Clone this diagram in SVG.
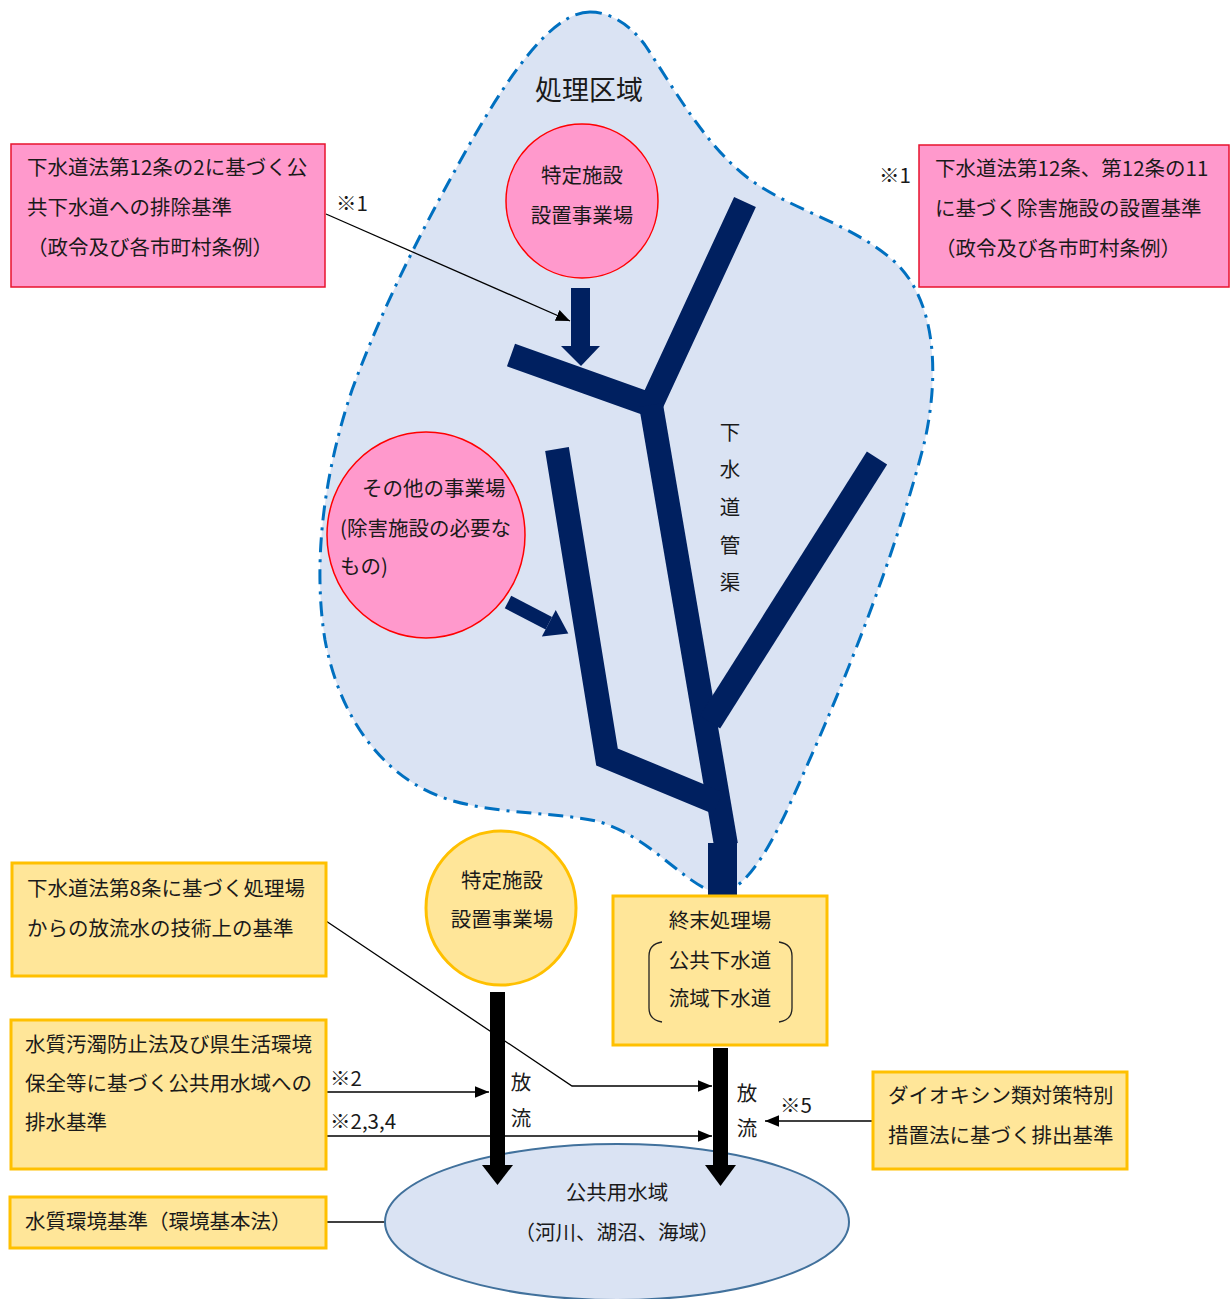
<svg xmlns="http://www.w3.org/2000/svg" width="1232" height="1299" viewBox="0 0 1232 1299">
<style>
text{font-family:"Noto Sans CJK JP","Noto Sans",sans-serif;fill:#1a1a1a;font-size:20.5px}
.c{text-anchor:middle}
.pink{fill:#FF99CC;stroke:#FF0000;stroke-width:1.5}
.pinkbox{fill:#FF99CC;stroke:#E8132E;stroke-width:1.5}
.yel{fill:#FFE699;stroke:#FFC000;stroke-width:3}
.pipe{fill:none;stroke:#002060;stroke-width:24;stroke-linejoin:miter;stroke-linecap:butt}
.navy{fill:#002060}
.blk{fill:#000}
.ln{fill:none;stroke:#000;stroke-width:1.3}
</style>
<defs>
<marker id="ah" viewBox="0 0 12 10" refX="12" refY="5" markerWidth="14" markerHeight="12" markerUnits="userSpaceOnUse" orient="auto">
<path d="M0,0 L12,5 L0,10 Z" fill="#000"/>
</marker>
</defs>
<rect width="1232" height="1299" fill="#fff"/>

<g id="area">
<path d="M590,12 C555,12 515,65 472,140 C428,218 385,300 352,390 C325,470 312,560 325,640 C340,720 385,780 450,800 C500,815 560,812 600,822 C650,838 675,875 712,892 C745,900 775,840 805,770 C850,670 900,540 925,440 C940,370 935,300 895,262 C850,222 790,210 748,178 C705,145 675,90 645,45 C628,22 608,12 590,12 Z" fill="#DAE3F3" stroke="#0070C0" stroke-width="3" stroke-dasharray="15 7 3 7"/>
<text class="c" x="589" y="100" style="font-size:27px">処理区域</text>
</g>

<g id="pipes">
<polyline class="pipe" points="745,202 651,405 511,355"/>
<polyline class="pipe" points="651,405 726,845"/>
<polyline class="pipe" points="877,458 710,722"/>
<polyline class="pipe" points="557,449 607,757 718,803"/>
<rect class="navy" x="708" y="843" width="29" height="52"/>
<g>
<text class="c" x="730" y="440">下</text>
<text class="c" x="730" y="477">水</text>
<text class="c" x="730" y="515">道</text>
<text class="c" x="730" y="553">管</text>
<text class="c" x="730" y="590">渠</text>
</g>
</g>

<g id="connectors">
<polyline class="ln" points="326,214 570,321" marker-end="url(#ah)"/>
<polyline class="ln" points="326,921 572,1086 712,1086" marker-end="url(#ah)"/>
<polyline class="ln" points="326,1092 489,1092" marker-end="url(#ah)"/>
<polyline class="ln" points="326,1136 712,1136" marker-end="url(#ah)"/>
<polyline class="ln" points="873,1121 765,1121" marker-end="url(#ah)"/>
<polyline class="ln" points="326,1222 386,1222"/>
<text x="336" y="211">※1</text>
<text x="879" y="183">※1</text>
<text x="330" y="1086">※2</text>
<text x="330" y="1129">※2,3,4</text>
<text x="780" y="1113">※5</text>
</g>

<g id="public-water">
<ellipse cx="617" cy="1222" rx="232" ry="78" fill="#DAE3F3" stroke="#41719C" stroke-width="2"/>
<text class="c" x="617" y="1200">公共用水域</text>
<text class="c" x="617" y="1240">（河川、湖沼、海域）</text>
</g>

<g id="flow-arrows">
<rect class="navy" x="571" y="288" width="19" height="58"/>
<polygon class="navy" points="561,346 600,346 581,366"/>
<g transform="translate(508,602) rotate(27.5)">
<rect class="navy" x="0" y="-7" width="46" height="14"/>
<polygon class="navy" points="46,-15 68,0 46,15"/>
</g>
<rect class="blk" x="490" y="992" width="15" height="173"/>
<polygon class="blk" points="482,1165 513,1165 497.5,1185"/>
<rect class="blk" x="713" y="1048" width="15" height="117"/>
<polygon class="blk" points="705,1165 736,1165 720.5,1186"/>
<text class="c" x="521" y="1090">放</text>
<text class="c" x="521" y="1126">流</text>
<text class="c" x="747" y="1101">放</text>
<text class="c" x="747" y="1136">流</text>
</g>

<g id="specific-facility-top">
<ellipse class="pink" cx="582" cy="201" rx="76" ry="77"/>
<text class="c" x="582" y="183">特定施設</text>
<text class="c" x="582" y="223">設置事業場</text>
</g>

<g id="other-facility">
<ellipse class="pink" cx="426" cy="535" rx="99" ry="103"/>
<text x="362" y="496">その他の事業場</text>
<text x="340" y="536">(除害施設の必要な</text>
<text x="340" y="574">もの)</text>
</g>

<g id="std-discharge">
<rect class="pinkbox" x="11" y="144" width="314" height="143"/>
<text x="27" y="175">下水道法第12条の2に基づく公</text>
<text x="27" y="215">共下水道への排除基準</text>
<text x="27" y="255">（政令及び各市町村条例）</text>
</g>

<g id="std-pretreatment">
<rect class="pinkbox" x="919" y="145" width="310" height="142"/>
<text x="935" y="176">下水道法第12条、第12条の11</text>
<text x="935" y="216">に基づく除害施設の設置基準</text>
<text x="935" y="256">（政令及び各市町村条例）</text>
</g>

<g id="specific-facility-bottom">
<ellipse class="yel" cx="501" cy="908" rx="75" ry="77"/>
<text class="c" x="502" y="888">特定施設</text>
<text class="c" x="502" y="927">設置事業場</text>
</g>

<g id="treatment-plant">
<rect class="yel" x="613" y="896" width="214" height="149"/>
<text class="c" x="720" y="928">終末処理場</text>
<text class="c" x="720" y="968">公共下水道</text>
<text class="c" x="720" y="1006">流域下水道</text>
<path d="M662,942 Q649,944 649,956 L649,1008 Q649,1020 662,1022" fill="none" stroke="#222" stroke-width="1.3"/>
<path d="M779,942 Q792,944 792,956 L792,1008 Q792,1020 779,1022" fill="none" stroke="#222" stroke-width="1.3"/>
</g>

<g id="std-plant-effluent">
<rect class="yel" x="12" y="863" width="314" height="113"/>
<text x="27" y="896">下水道法第8条に基づく処理場</text>
<text x="27" y="936">からの放流水の技術上の基準</text>
</g>

<g id="std-water-pollution">
<rect class="yel" x="11" y="1020" width="315" height="149"/>
<text x="25" y="1052">水質汚濁防止法及び県生活環境</text>
<text x="25" y="1091">保全等に基づく公共用水域への</text>
<text x="25" y="1130">排水基準</text>
</g>

<g id="std-environment">
<rect class="yel" x="10" y="1197" width="316" height="51"/>
<text x="25" y="1229">水質環境基準（環境基本法）</text>
</g>

<g id="std-dioxin">
<rect class="yel" x="873" y="1072" width="254" height="97"/>
<text x="888" y="1103">ダイオキシン類対策特別</text>
<text x="888" y="1143">措置法に基づく排出基準</text>
</g>
</svg>
